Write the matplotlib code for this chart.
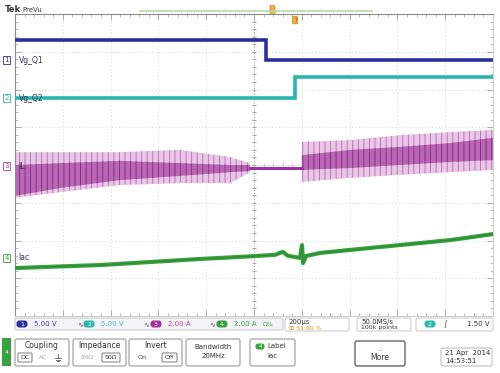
import numpy as np
import matplotlib
matplotlib.use('Agg')
import matplotlib.pyplot as plt
from matplotlib.patches import FancyBboxPatch, Rectangle

# time in microseconds (200 us/div, 10 div), levels in divisions
T_MIN, T_MAX = -1000, 1000

# Vg_Q1 (ch1, blue): high then low after the step
q1_t = [-1000, 50, 50, 1000]
q1_v = [3.31, 3.31, 2.78, 2.78]

# Vg_Q2 (ch2, cyan): low then high after the step
q2_t = [-1000, 172, 172, 1000]
q2_v = [1.77, 1.77, 2.33, 2.33]

# IL (ch3, magenta): ripple envelope before and after the dead zone
il_left_t = [-1000, -812, -561, -310, -100, -17]
il_left_top = [0.34, 0.34, 0.34, 0.40, 0.21, 0.05]
il_left_bot = [-0.87, -0.72, -0.53, -0.48, -0.48, -0.19]
il_left_dtop = [0.00, 0.05, 0.11, 0.05, 0.00, 0.00]
il_left_dbot = [-0.82, -0.61, -0.40, -0.29, -0.19, -0.16]

il_flat_t = [-17, 200]
il_flat_v = [-0.08, -0.08]

il_right_t = [200, 402, 611, 820, 1000]
il_right_top = [0.61, 0.66, 0.79, 0.87, 0.93]
il_right_bot = [-0.45, -0.34, -0.26, -0.19, -0.13]
il_right_dtop = [0.26, 0.40, 0.48, 0.58, 0.72]
il_right_dbot = [-0.13, -0.08, 0.00, 0.08, 0.13]

# Iac (ch4, green)
iac_t = [-1000, -644, -435, -226, -17, 88, 121, 140, 172, 192, 201, 205, 218, 276, 402, 611, 820, 1000]
iac_v = [-2.73, -2.65, -2.57, -2.49, -2.42, -2.38, -2.30, -2.40, -2.44, -2.46, -2.12, -2.60,
         -2.41, -2.33, -2.25, -2.12, -1.99, -1.83]

# channel labels (number, name, level in div, colour)
labels = [('1', 'Vg_Q1', 2.78, '#2b2f9a'),
          ('2', 'Vg_Q2', 1.77, '#2bb5b0'),
          ('3', 'IL', -0.03, '#b040a8'),
          ('4', 'Iac', -2.46, '#3aa040')]

BLUE = '#2b2f9a'
CYAN = '#2bb5b0'
MAG = '#a0309a'
GREEN = '#3aa040'

plt.rcParams['hatch.linewidth'] = 0.6

fig = plt.figure(figsize=(5.0, 3.73), dpi=100)
fig.patch.set_facecolor('white')

ax = fig.add_axes([15 / 500, 57 / 373, 478 / 500, 302 / 373])
ax.set_facecolor('none')
ax.set_xlim(T_MIN, T_MAX)
ax.set_ylim(-4, 4)

# graticule
for gx in np.arange(-800, 1000, 200):
    ax.axvline(gx, color='#c8c8c8', lw=0.6, ls=(0, (1, 3)), zorder=0)
for gy in np.arange(-3, 4, 1):
    ax.axhline(gy, color='#c8c8c8', lw=0.6, ls=(0, (1, 3)), zorder=0)
ax.axvline(0, color='#9a9a9a', lw=0.7, ls=(0, (1, 2)), zorder=0)
ax.axhline(0, color='#c0c0c0', lw=0.6, ls=(0, (1, 2)), zorder=0)
mt = np.arange(-4, 4.01, 0.2)
ax.plot(np.zeros_like(mt), mt, ls='none', marker='_', ms=3, color='#9a9a9a', mew=0.6, zorder=0)
mx = np.arange(-1000, 1001, 40)
ax.plot(mx, np.zeros_like(mx), ls='none', marker='|', ms=3, color='#c0c0c0', mew=0.6, zorder=0)

ax.set_xticks(np.arange(-1000, 1001, 200))
ax.set_yticks(np.arange(-4, 5, 1))
ax.set_xticks(np.arange(-1000, 1001, 40), minor=True)
ax.set_yticks(np.arange(-4, 4.01, 0.2), minor=True)
ax.tick_params(which='both', direction='in', labelleft=False, labelbottom=False,
               left=True, right=True, top=True, bottom=True, color='#a0a0a0')
ax.tick_params(which='major', length=4, width=0.6)
ax.tick_params(which='minor', length=2, width=0.5)
ax.spines['left'].set_color('#8a8a8a')
ax.spines['top'].set_color('#8a8a8a')
ax.spines['right'].set_color('#cfcfcf')
ax.spines['bottom'].set_color('#cfcfcf')

# traces
ax.plot(q1_t, q1_v, color=BLUE, lw=2.6, solid_joinstyle='miter', zorder=3)
ax.plot(q2_t, q2_v, color=CYAN, lw=2.6, solid_joinstyle='miter', zorder=3)

for t, bot, top, dbot, dtop in [(il_left_t, il_left_bot, il_left_top, il_left_dbot, il_left_dtop),
                                (il_right_t, il_right_bot, il_right_top, il_right_dbot, il_right_dtop)]:
    ax.fill_between(t, bot, top, facecolor='#e8c6e6', edgecolor='#b868b4',
                    hatch='|||', lw=0, zorder=2)
    ax.fill_between(t, dbot, dtop, facecolor='#b45cb0', edgecolor='#7a2476',
                    hatch='|||', lw=0, alpha=0.9, zorder=2)
ax.plot(il_flat_t, il_flat_v, color=MAG, lw=2.2, zorder=3)

ax.plot(iac_t, iac_v, color=GREEN, lw=3.0, zorder=3)
ax.plot(iac_t, iac_v, color='#2a8a30', lw=0.8, zorder=3)

# channel markers and names at the left edge
for num, name, lvl, col in labels:
    ax.text(-1045, lvl, num, fontsize=5, color=col, ha='left', va='center',
            bbox=dict(boxstyle='square,pad=0.15', fc='white', ec=col, lw=0.6), clip_on=False, zorder=5)
    ax.text(-985, lvl, name, fontsize=5.5, color='#333355', ha='left', va='center', zorder=5)

# trigger position marker
ax.annotate('T', xy=(172, 3.84), fontsize=3.5, color='#8a5a10', ha='center', va='center',
            bbox=dict(boxstyle='round,pad=0.25', fc='#f0b040', ec='#d08a20', lw=0.5),
            annotation_clip=False, zorder=6)

# overlay in pixel coordinates for the scope UI
ui = fig.add_axes([0, 0, 1, 1], zorder=-1)
ui.set_xlim(0, 500)
ui.set_ylim(373, 0)
ui.axis('off')

ui.text(5, 9, 'Tek', fontsize=6, fontweight='bold', color='#333333', va='center')
ui.text(22, 9.5, 'PreVu', fontsize=5, color='#333333', va='center')
ui.plot([140, 372], [11, 11], color='#b8d8a8', lw=1.2)
ui.add_patch(FancyBboxPatch((270.5, 6), 4, 8, boxstyle='round,pad=0.5', fc='#f0b040', ec='#d08a20', lw=0.5))


def box(x0, y0, w, h, ec='#9a9a9a', fc='white', lw=0.8, r=2):
    ui.add_patch(FancyBboxPatch((x0, y0), w, h, boxstyle='round,pad=0,rounding_size=%s' % r,
                                fc=fc, ec=ec, lw=lw))


# status row
box(15, 318, 268, 12, ec='#c0c0c0', fc='#f4f4f8', lw=0.6)
chans = [(22, '1', '5.00 V', BLUE, '#3a3fb0'), (89, '2', '5.00 V', CYAN, '#40c0c0'),
         (156, '3', '2.00 A', MAG, '#b040a8'), (222, '4', '2.00 A', GREEN, '#3aa040')]
for cx, n, txt, col, tcol in chans:
    ui.add_patch(FancyBboxPatch((cx - 5, 321), 10, 6, boxstyle='round,pad=0.5,rounding_size=3',
                                fc=col, ec='none'))
    ui.text(cx, 324, n, fontsize=4.5, color='white', ha='center', va='center')
    ui.text(cx + 12, 324, txt, fontsize=5, color=tcol, ha='left', va='center')
for sx in [80, 146, 212]:
    ui.text(sx, 324, '∿', fontsize=5, color='#555555', ha='center', va='center')
ui.text(268, 324, 'Ω%', fontsize=4.5, color=GREEN, ha='center', va='center')

box(285, 318, 64, 13, ec='#c0c0c0', lw=0.6)
ui.text(289, 322, '200µs', fontsize=5, color='#333333', va='center')
ui.text(289, 328, '⊞ 51.60 %', fontsize=4.5, color='#e09020', va='center')
box(357, 318, 54, 13, ec='#c0c0c0', lw=0.6)
ui.text(361, 322, '50.0MS/s', fontsize=5, color='#333333', va='center')
ui.text(361, 328, '100k points', fontsize=4.5, color='#333333', va='center')
box(416, 318, 77, 13, ec='#c0c0c0', lw=0.6)
ui.add_patch(FancyBboxPatch((425, 321), 10, 6, boxstyle='round,pad=0.5,rounding_size=3',
                            fc=CYAN, ec='none'))
ui.text(430, 324, '2', fontsize=4.5, color='white', ha='center', va='center')
ui.text(445, 324, '∫', fontsize=5, color='#333333', ha='center', va='center')
ui.text(490, 324, '1.50 V', fontsize=5, color='#333333', ha='right', va='center')

# menu row
ui.add_patch(Rectangle((2, 338), 9, 28, fc=GREEN, ec='none'))
ui.text(6.5, 352, '4', fontsize=4, color='white', ha='center', va='center')
menu = [(15, 54, 'Coupling'), (73, 53, 'Impedance'), (129, 53, 'Invert')]
for x0, w, title in menu:
    box(x0, 339, w, 27)
    ui.text(x0 + w / 2, 346, title, fontsize=5.5, color='#333333', ha='center', va='center')
# choices
box(18, 353, 14, 9, ec='#666666', lw=0.6, r=1)
ui.text(25, 357.5, 'DC', fontsize=4.5, color='#333333', ha='center', va='center')
ui.text(43, 357.5, 'AC', fontsize=4.5, color='#aaaaaa', ha='center', va='center')
# ground symbol (no installed font has it), drawn as lines
ui.plot([58, 58], [354, 358], color='#555555', lw=0.6)
ui.plot([55, 61], [358, 358], color='#555555', lw=0.6)
ui.plot([56, 60], [359.5, 359.5], color='#555555', lw=0.6)
ui.plot([57, 59], [361, 361], color='#555555', lw=0.6)
ui.text(86, 357.5, '1MΩ', fontsize=4.5, color='#aaaaaa', ha='center', va='center')
box(102, 353, 18, 9, ec='#666666', lw=0.6, r=1)
ui.text(111, 357.5, '50Ω', fontsize=4.5, color='#333333', ha='center', va='center')
ui.text(142, 357.5, 'On', fontsize=4.5, color='#333333', ha='center', va='center')
box(162, 353, 15, 9, ec='#666666', lw=0.6, r=1)
ui.text(169.5, 357.5, 'Off', fontsize=4.5, color='#333333', ha='center', va='center')

box(186, 339, 54, 27)
ui.text(213, 347, 'Bandwidth', fontsize=5, color='#333333', ha='center', va='center')
ui.text(213, 356, '20MHz', fontsize=5, color='#333333', ha='center', va='center')

box(250, 339, 45, 27)
ui.add_patch(FancyBboxPatch((256, 344), 8, 5, boxstyle='round,pad=0.5,rounding_size=2.5',
                            fc=GREEN, ec='none'))
ui.text(260, 346.5, '4', fontsize=4, color='white', ha='center', va='center')
ui.text(267, 346.5, 'Label', fontsize=5, color='#333333', ha='left', va='center')
ui.text(272, 356, 'Iac', fontsize=5, color='#333333', ha='center', va='center')

box(355, 341, 50, 25, ec='#555555', lw=0.9)
ui.text(380, 348, '△', fontsize=4.5, color='#bbbbbb', ha='center', va='center')
ui.text(380, 357, 'More', fontsize=5.5, color='#333333', ha='center', va='center')

box(441, 348, 51, 18, ec='#aaaaaa', lw=0.6)
ui.text(445, 353, '21 Apr  2014', fontsize=5, color='#333333', va='center')
ui.text(445, 361, '14:53:51', fontsize=5, color='#333333', va='center')

fig.savefig('out.png', dpi=100, facecolor='white')
